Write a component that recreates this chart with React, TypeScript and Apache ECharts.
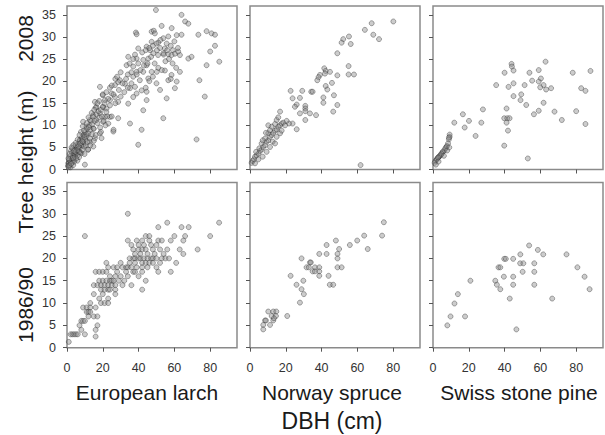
import React, { useEffect, useRef } from "react";
import * as echarts from "echarts";

// [DBH (cm), height (m)]
const larch2008: number[][] = [
  [49.7,36.1],[64,35],[66,33.5],[67.8,33],[52.9,32.5],[58.5,32],[73.4,30.5],[78,31.3],[38.5,31],[38.9,30.6],
  [47.3,31.2],[48.5,31.4],[49.1,30.8],[61.3,30.4],[64,30.5],[56.6,30.1],[53.8,29.7],[52.2,29.3],[47.3,28.9],[51,28.7],
  [55.7,28.5],[44.5,27.8],[39.8,27.4],[46.4,27],[50.3,27],[54.7,27.4],[59.2,27],[60.3,26.2],[63.1,25.9],[67.8,25.1],
  [69.6,25.5],[80,26.7],[48.2,26.3],[50.9,25.9],[53.8,26.3],[56.6,26.1],[58.4,25.9],[62.1,26.7],[78,23.6],[34.2,25.5],
  [38.9,25.1],[42.6,24.8],[45.4,25.1],[39.8,24],[44.5,23.6],[37,23.3],[33.3,23.6],[42.6,22.1],[47.3,22.1],[50.2,22.1],
  [54.7,22.4],[63.1,22.1],[58.4,21.4],[56.6,20.2],[61.3,19.9],[60.3,18.4],[38.9,22.1],[37,21],[40.7,20.2],[45.4,20.6],
  [29.6,20.2],[32.4,19.4],[28.6,19.8],[26.8,19.1],[35.2,18.4],[38,18.7],[41.7,17.9],[44.5,17.6],[38.9,17.2],[37,16.4],
  [44.5,15.7],[55.7,16.1],[24.9,17.2],[26.8,16.4],[24,15.7],[28.6,15.3],[34.2,14.9],[42.6,13.4],[18.4,18.7],[21.2,15.7],
  [15.6,15.3],[16.5,14.1],[20.2,14.1],[22.1,13.8],[18.4,12.7],[14.7,12.3],[21.2,11.9],[24,11.9],[12.8,11.2],[16.5,11.2],
  [20.2,10.8],[23.1,10.4],[28.6,11.6],[35.2,10.4],[25.9,8.6],[53.8,11.6],[41.7,9],[39.8,5.6],[72.4,6.8],[77,16.5],
  [10.9,9.7],[14.7,9.3],[18.4,8.2],[19.3,7.1],[15.6,7.1],[12.8,6.3],[10,7.8],[7.2,6.7],[9.1,5.6],[6.3,4.8],
  [4.4,3.3],[2.6,2.2],[0.7,1.4],[10,1.1],[11.8,4.5],[14.7,5.2],[8.1,3.7],
  [80.8,30.8],[82.7,30.5],[82.7,28],[85.1,24.4],[74,20.2],
  [0.5,0.8],[1,1.5],[1.5,1],[1.2,2.2],[2,1.8],[2.5,2.5],[3,1.5],[3.2,3],[2.8,3.8],[3.8,2.2],
  [4,3.5],[4.5,2.8],[4.2,4.5],[5,3.8],[5.5,4.8],[5,5.5],[6,3.2],[6.2,4.2],[6.5,5.8],[7,4.8],
  [7.2,6.5],[7.5,3.8],[8,5.5],[8.2,7.2],[8.5,4.5],[9,6.2],[9.2,7.8],[9.5,5.2],[10,8.5],[10.2,6.8],
  [10.5,5.5],[11,7.5],[11.2,9.2],[11.5,6.2],[12,8.2],[12.5,10],[12.8,7],[13,9],[13.5,11],[14,8],
  [14,10.2],[14.5,12],[15,9.2],[15.5,11],[16,7.8],[16.5,12.5],[17,10.5],[17.5,13.2],[18,11.8],[18.5,9.5],
  [19,13.5],[19.5,12],[20,14.2],[20.5,11],[21,15],[22,13],[22.5,12],[23,16],[24,14.5],[2,0.5],
  [3.5,1],[1.8,3],[0.8,2.5],[3,4.8],[4.8,6],[6,6.8],[7.8,8.5],[9.8,3.5],[5.8,2],[8.8,9.8],
  [11.8,4.5],[13,5.5],[15,6.5],[3.5,5.5],[2.2,4.2],[6.8,2.8],[9,10.8],[1,0.5],[4,1.8],[7,7.8],
  [12,11.8],[16,14],[18,15.5],[20,16.8],[19,8.5],[21.5,10],[25,12],[26,9],[1.5,3.5],[2.5,5],
  [5.2,2.5],[6.8,4],[8.8,6.8],[10.8,8],[12.2,9.6],[13.8,12.8],[15.2,13.5],[17,15],[11,10.5],[9.5,8.8],
  [20,17],[22,17.5],[24,18.5],[25,19],[27,20.5],[28,21],[30,22],[26,17],[29,18],[31,19.5],
  [33,20.5],[34,21.5],[36,22],[35,24],[37,25],[38,26],[27,15],[30,16.5],[32,17.5],[34,18.5],
  [36,19.5],[39,21.5],[41,22.5],[43,23.5],[45,24],[42,26.5],[44,27],[46,27.5],[48,28],[50,28.5],
  [52,27.5],[54,26],[56,27],[58,28],[60,29],[62,27.5],[47,25.5],[49,24],[51,23],[53,22.5],
  [55,24.5],[57,25],[59,24],[61,23],[48,21],[50,19.5],[46,20],[44,18.5],[52,18],[58,20.5],
  [1.2,0.9],[2.3,1.3],[3.4,2.6],[4.6,4],[5.8,4.4],[7.4,5.9],[8.6,6.4],[9.8,7.3],[3.9,4.2],[6.4,5.2]
];

const spruce2008: number[][] = [
  [80.1,33.5],[68,33.1],[64.2,31.6],[68.9,30.5],[72.1,29.5],[55.3,30.1],[52.1,29.5],[51.2,28.7],[56.3,28.4],[48.8,26.3],
  [55.1,23.4],[55.1,21.5],[58.1,21.5],[48.8,21.3],[41.5,22.9],[42.3,22.3],[41.9,21.7],[39.1,21.4],[38.3,20.9],[37.6,20.2],
  [44.7,22.1],[45.8,19.6],[42.3,18.9],[43.2,18.1],[34.2,17.6],[35,17.6],[29.2,17.8],[22.7,17.8],[23.8,16.1],[27.9,16.2],
  [46.9,16.8],[41,16.3],[41,15.1],[48.8,14.6],[46.5,13.1],[26.1,14.7],[25.1,14.2],[30.9,14.4],[30.9,13.8],[30.9,13.2],
  [27.9,12.7],[33.5,12.7],[30.9,11.2],[36.9,12.3],[16.8,13.1],[26.1,9.1],[23.8,10.4],[21.8,10.4],[61.8,1.0],
  [0.9,1.5],[1.5,1.95],[2.2,2.3],[2.8,2.9],[3.7,3.2],[4.7,3.6],[3.4,4],[5.6,4.2],[6.5,4.5],[5.2,4.8],
  [7.4,5.1],[8.4,5.5],[6.5,5.9],[9.3,6.3],[10.2,6.6],[8.4,7],[11.2,7.4],[12.1,7.8],[10.2,8.2],[13,8.3],
  [14,8.8],[11.2,8.9],[14.9,9.1],[15.8,9.7],[12.1,9.7],[16.8,10],[17.7,10.4],[14,10.3],[18.6,10.6],[19.6,10],
  [20.5,11],[14.9,11.2],[15.8,11.8],[10.2,10],[8.9,8.3],[7.1,6.6],[12.7,6.3],[14,5.9],[16.8,8.2],[17.7,8.8],
  [14.9,7.4],[4.7,2.3],[2.8,1.4],[7.1,2.9],[9.3,4],[11.2,5.1]
];

const pine2008: number[][] = [
  [62.9,24.4],[43.9,23.9],[44.1,23.3],[45,22.4],[40,21.9],[53.9,21.9],[59.1,22.5],[78.1,21.9],[88,22.3],[45,19.5],
  [55.4,20.1],[60.3,20.6],[59.1,19.9],[61.8,19.1],[59.9,18.6],[63.2,18.1],[66,18.4],[51.2,19.1],[42.2,18.7],[35.3,19.1],
  [82.8,18.4],[85.2,17.8],[45,16.6],[49.3,17],[48.9,15.7],[52.1,14.6],[61.8,15.1],[27.9,13.6],[41.1,13.8],[67.9,13.1],
  [80,13.2],[56.4,12.5],[59.1,13.3],[16.7,12.5],[20.1,11],[11.9,10.6],[17.7,9.5],[27,10.6],[39.8,11.6],[41.5,11.6],
  [42.8,11.6],[41.1,10.6],[41.9,8.8],[72,11.2],[85.2,10.3],[23.8,7.6],[39.8,5.4],[53,2.5],
  [9.3,7.4],[8.9,6.8],[8.4,5.9],[7.4,5.1],[6.5,4.4],[5.2,3.8],[4.7,3.4],[3.7,3],[2.8,2.6],[1.9,2.2],
  [1.3,1.9],[0.9,1.5],[2.2,2.4],[3.3,2.9],[5.6,4.1],[7.8,5.3],[4.7,3.6],[4.1,3.2],[6.9,4.8],[2.8,2.7],
  [9.3,7.9],[8.9,7.2],[7.9,4.3],[9.1,5],[6.1,3.1],[1.6,1.1],[3.1,1.8]
];

const larch1990: number[][] = [
  [34,30],[10,25],[56,28],[85,28],[80,25],
  [51,27],[64,27],[68,27],
  [44,25],[46,25],[60,25],[66,25],
  [34,24],[39,24],[42,24],[46,24],[51,24],[53,24],[58,24],[65,24],
  [36,23],[40,23],[43,23],[47,23],[50,23],
  [37,22],[40,22],[42,22],[44,22],[48,22],[52,22],[56,22],[63,22],[73,22],
  [38,21],[41,21],[45,21],[49,21],[54,21],[65,21],
  [35,20],[37,20],[38,20],[40,20],[41,20],[43,20],[45,20],[47,20],[48,20],[50,20],[53,20],[55,20],[57,20],
  [22,19],[30,19],[35,19],[38,19],[42,19],[44,19],[46,19],[48,19],[52,19],[61,19],
  [23,18],[26,18],[28,18],[31,18],[33,18],[34,18],[36,18],[39,18],[42,18],[45,18],[50,18],
  [16,17],[18,17],[20,17],[22,17],[28,17],[33,17],[37,17],[38,17],[42,17],[51,17],[58,17],
  [24,16],[27,16],[30,16],[34,16],[40,16],
  [18,15],[20,15],[22,15],[24,15],[25,15],[26,15],[29,15],[32,15],[44,15],
  [15,14],[17,14],[19,14],[21,14],[23,14],[25,14],[27,14],[31,14],[36,14],
  [19,13],[21,13],[23,13],[24,13],[27,13],[42,13],
  [15,12],[20,12],[27,12],
  [18,11],[23,11],
  [13,10],[19,10],[21,10],[23,10],
  [9,9],[11,9],[13,9],[16,9],
  [11,8],[12,8],[13,8],
  [12,7],[15,7],[17,7],
  [8,6],[9,6],[10,6],
  [7,5],[17,5],
  [8,4],[16,4],
  [2,3],[3,3],[4,3],[5,3],[6,3],[10,3],
  [16,2.5],
  [1,1.3]
];

const spruce1990: number[][] = [
  [74.8,28.1],[73.8,25.1],[63.8,25.1],[59.9,24],[55.8,23],[48,24],[42.8,23],[49.8,22.1],[65.8,22.1],[38.7,21],
  [42.8,21],[48.9,21],[48.9,20],[28.8,20],[33.5,19.1],[34,19.1],[31.6,18],[32.9,18],[36.3,18],[38.7,18],
  [48.9,18],[51.2,18],[35,17.1],[36.3,17.1],[38.7,17.1],[38.7,16.1],[22.7,16.1],[43.9,16.1],[29.8,15],[26,14.1],
  [44.6,14.1],[46.5,14.1],[28.8,13.1],[30.1,12],[27.9,10.1],[20.8,7.1],[10.2,8.1],[13,8.1],[14.7,8.1],[14.5,7.1],
  [13,6.1],[11.2,5.1],[8.4,6.1],[7.4,5.1],[7.4,4.1],[8.9,6.1],[12.1,7.1],[13.4,6.6]
];

const pine1990: number[][] = [
  [53.7,22.9],[58.6,21.9],[61.6,20.9],[74.6,20.9],[48.8,20.9],[39.8,19.9],[40.7,19.9],[44.8,19.9],[36.6,18],[37.6,18],
  [48.7,18.9],[50.5,18.9],[56.6,18.9],[80.7,18],[34.8,15],[35.7,14.1],[37.6,13.1],[39.6,15.9],[44.8,15.9],[50.1,17],
  [56.6,17],[44.8,14.1],[56.6,14.1],[84.7,15.9],[87.5,13.1],[20.9,15],[13.9,12],[12,9.9],[9.8,7],[8,5],
  [17.9,7],[42.9,11],[66.6,11],[46.6,4.1]
];

const panels = [larch2008, spruce2008, pine2008, larch1990, spruce1990, pine1990];
const speciesNames = ["European larch", "Norway spruce", "Swiss stone pine"];
const xTicks = [0, 20, 40, 60, 80];
const yTicks = [0, 5, 10, 15, 20, 25, 30, 35];

const colLeft = [67, 250, 433];
const colWidth = 170;
const rowTop = [6, 182.5];
const rowHeight = [163.5, 165.2];
const speciesX = [147, 332, 519];
const FONT = "Liberation Sans, Arial, sans-serif";

export default function App() {
  const ref = useRef<HTMLDivElement>(null);
  useEffect(() => {
    if (!ref.current) return;
    const chart = echarts.init(ref.current, undefined, { renderer: "svg" });
    const grids: any[] = [];
    const xAxes: any[] = [];
    const yAxes: any[] = [];
    const series: any[] = [];
    panels.forEach((data, i) => {
      const r = Math.floor(i / 3);
      const c = i % 3;
      grids.push({
        left: colLeft[c], top: rowTop[r], width: colWidth, height: rowHeight[r],
        show: true, borderColor: "#8a8a8a", borderWidth: 1.5, backgroundColor: "transparent",
      });
      xAxes.push({
        type: "value", gridIndex: i, min: 0, max: 95,
        axisLine: { show: false },
        axisTick: { show: true, length: 4, inside: false, customValues: xTicks, lineStyle: { color: "#555", width: 1 } },
        axisLabel: { show: r === 1, customValues: xTicks, fontSize: 12.5, color: "#333", margin: 14, fontFamily: FONT },
        splitLine: { show: false },
      });
      yAxes.push({
        type: "value", gridIndex: i, min: 0, max: 37,
        axisLine: { show: false },
        axisTick: { show: true, length: 4, inside: false, customValues: yTicks, lineStyle: { color: "#555", width: 1 } },
        axisLabel: { show: c === 0, customValues: yTicks, fontSize: 12.5, color: "#333", margin: 11, fontFamily: FONT },
        splitLine: { show: false },
      });
      series.push({
        type: "scatter", xAxisIndex: i, yAxisIndex: i, data,
        symbol: "circle", symbolSize: 5,
        itemStyle: { color: "rgba(140,140,140,0.55)", borderColor: "rgba(40,40,40,0.6)", borderWidth: 0.8 },
      });
    });
    const graphics: any[] = speciesNames.map((name, c) => ({
      type: "text", x: speciesX[c], y: 392,
      style: { text: name, fontSize: 21, fill: "#1a1a1a", fontFamily: FONT, align: "center", verticalAlign: "middle" },
    }));
    graphics.push({
      type: "text", x: 332, y: 421,
      style: { text: "DBH (cm)", fontSize: 23, fill: "#1a1a1a", fontFamily: FONT, align: "center", verticalAlign: "middle" },
    });
    const leftLabels = [["2008", 38.5], ["Tree height (m)", 162], ["1986/90", 305]];
    leftLabels.forEach(([t, y]) => {
      graphics.push({
        type: "text", x: 25, y: y as number, rotation: Math.PI / 2,
        style: { text: t as string, fontSize: 21, fill: "#1a1a1a", fontFamily: FONT, align: "center", verticalAlign: "middle" },
      });
    });
    chart.setOption({
      animation: false,
      backgroundColor: "#ffffff",
      grid: grids, xAxis: xAxes, yAxis: yAxes, series,
      graphic: graphics,
    });
    return () => chart.dispose();
  }, []);
  return (
    <div ref={ref} style={{ position: "absolute", left: 0, top: 0, width: 605, height: 435 }} />
  );
}
